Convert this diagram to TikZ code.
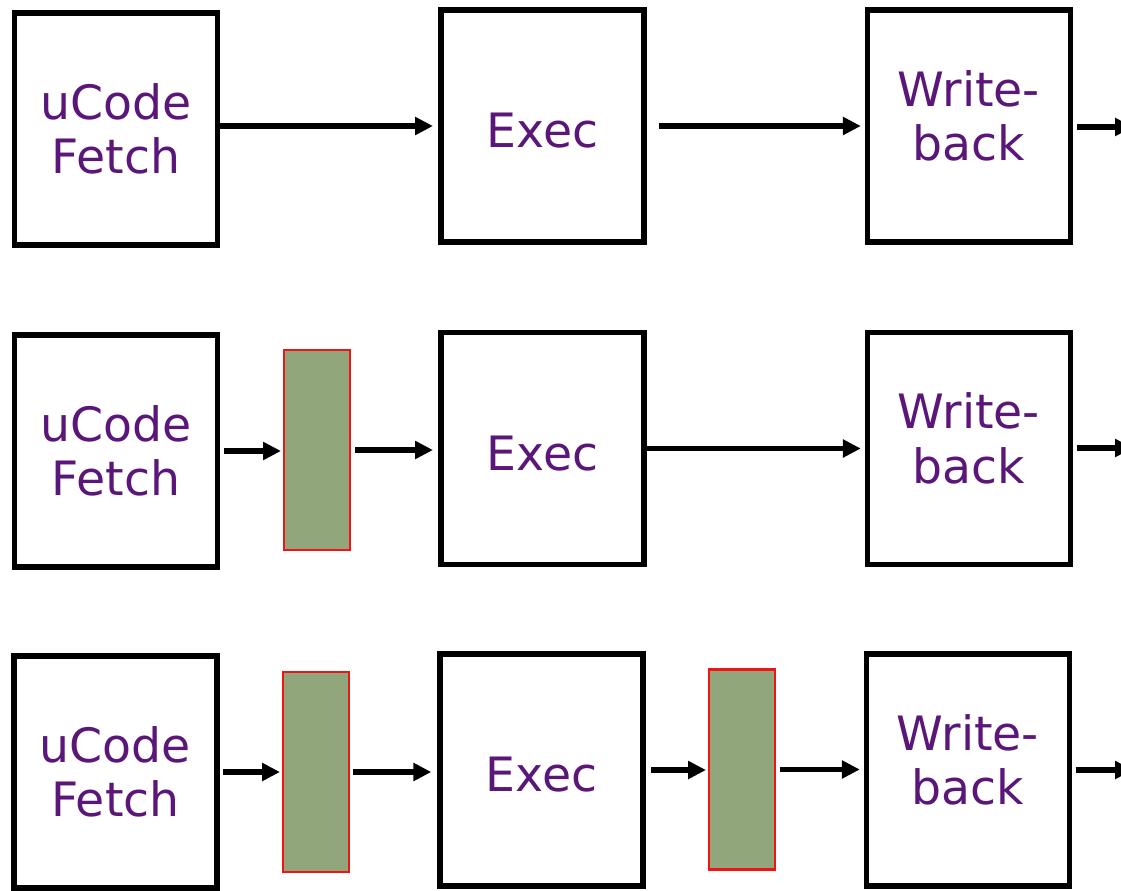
\documentclass[tikz,border=0pt]{standalone}
\usepackage{fontspec}
\setmainfont{DejaVu Sans}
\usetikzlibrary{arrows.meta}
\definecolor{stagetext}{RGB}{91,22,122}
\definecolor{latchfill}{RGB}{146,166,124}
\definecolor{latchedge}{RGB}{240,20,20}
\begin{document}
\begin{tikzpicture}[x=0.75pt,y=-0.75pt,
  stage/.style={draw=black, line width=4.2pt, fill=white, inner sep=0pt, outer sep=0pt,
    minimum width=152.25pt, minimum height=174pt, align=center,
    text=stagetext, font=\fontsize{35.5}{41}\selectfont},
  stagelabel/.style={inner sep=0pt, align=center, text=stagetext, font=\fontsize{35.5}{41}\selectfont},
  latch/.style={draw=latchedge, line width=1.6pt, fill=latchfill, inner sep=0pt, outer sep=0pt,
    minimum width=49.5pt, minimum height=150pt},
  flow/.style={draw=black, line width=4.2pt, -{Triangle[length=13.5pt,width=13pt]}}
]
\useasboundingbox (0,0) rectangle (1121,890);
\clip (0,0) rectangle (1121,890);

% ---- first pipeline: no latches ----
\node[stage] (r1a) at (116,129) {uCode\\Fetch};
\node[stage] (r1b) at (542.5,126) {};
\node[stagelabel] (r1bt) at (542.5,131) {Exec};
\node[stage] (r1c) at (969,126) {};
\node[stagelabel] (r1ct) at (969,116) {Write-\\back};
\coordinate (r1out) at (1133,127);

\draw[flow, shorten >=6pt] (r1a.east |- r1b) -- (r1b.west);
\draw[flow, shorten <=11.5pt, shorten >=5pt] (r1b) -- (r1b -| r1c.west);
\draw[flow, shorten <=4.5pt] (r1c.east |- r1out) -- (r1out);

% ---- second pipeline: latch after fetch ----
\node[stage] (r2a) at (116,451) {uCode\\Fetch};
\node[latch] (r2l) at (317,450) {};
\node[stage] (r2b) at (542.5,448.5) {};
\node[stagelabel] (r2bt) at (542.5,453.5) {Exec};
\node[stage] (r2c) at (969,448.5) {};
\node[stagelabel] (r2ct) at (969,438.5) {Write-\\back};
\coordinate (r2out) at (1133,448);

\draw[flow, shorten <=4.5pt, shorten >=2.25pt] (r2a) -- (r2a -| r2l.west);
\draw[flow, shorten <=3.75pt, shorten >=6pt] (r2l) -- (r2l -| r2b.west);
\draw[flow, shorten <=-2pt, shorten >=5pt] (r2b) -- (r2b -| r2c.west);
\draw[flow, shorten <=4.5pt] (r2c.east |- r2out) -- (r2out);

% ---- third pipeline: latches after fetch and exec ----
\node[stage] (r3a) at (115.5,772) {uCode\\Fetch};
\node[latch] (r3l) at (316,772) {};
\node[stage] (r3b) at (541.5,770) {};
\node[stagelabel] (r3bt) at (541.5,775) {Exec};
\node[latch] (r3m) at (742,769.5) {};
\node[stage] (r3c) at (968,770) {};
\node[stagelabel] (r3ct) at (968,760) {Write-\\back};
\coordinate (r3out) at (1133,770);

\draw[flow, shorten <=4.5pt, shorten >=2.25pt] (r3a) -- (r3a -| r3l.west);
\draw[flow, shorten <=3pt, shorten >=6.5pt] (r3l) -- (r3l -| r3b.west);
\draw[flow, shorten <=6pt, shorten >=2.25pt] (r3b) -- (r3b -| r3m.west);
\draw[flow, shorten <=3.75pt, shorten >=5pt] (r3m) -- (r3m -| r3c.west);
\draw[flow, shorten <=4.5pt] (r3c.east |- r3out) -- (r3out);
\end{tikzpicture}
\end{document}
